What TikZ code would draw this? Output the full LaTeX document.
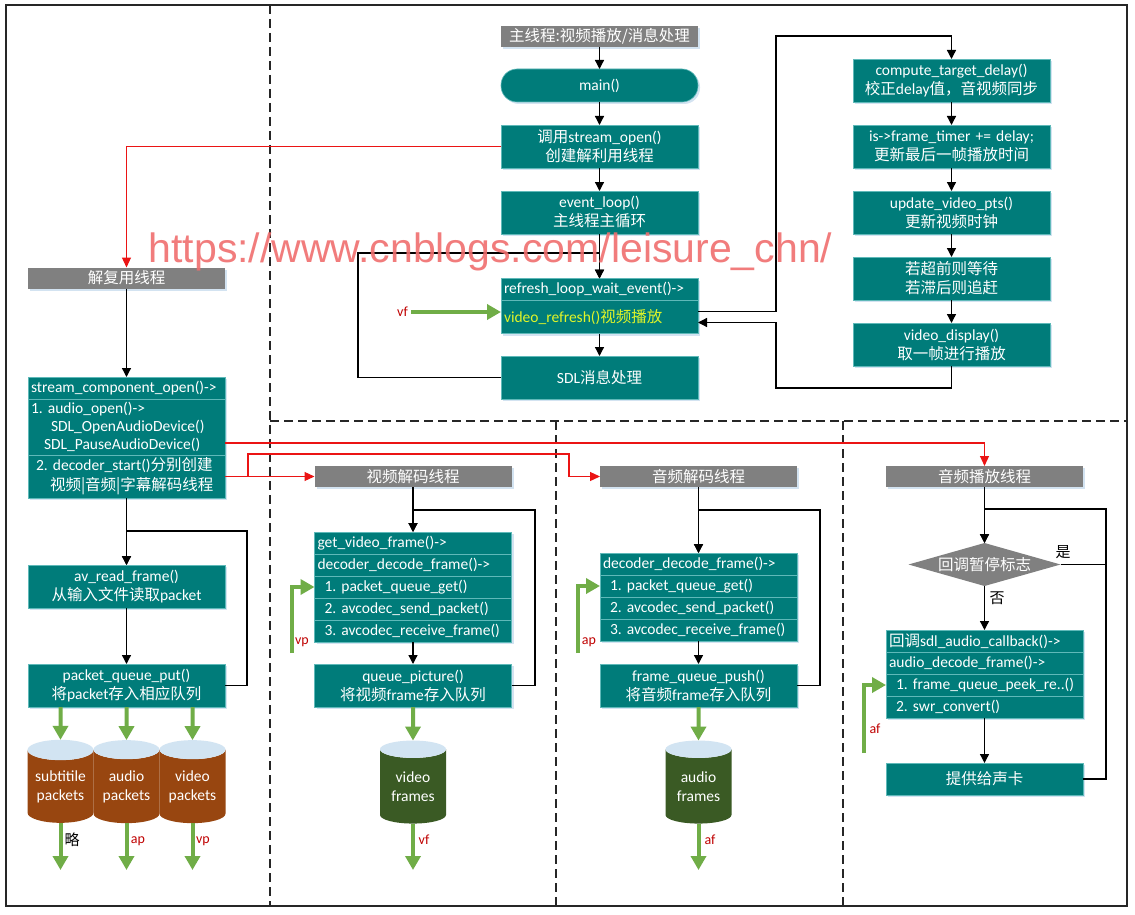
\documentclass[tikz,border=0pt]{standalone}
\usepackage{fontspec}
\setmainfont{Carlito}
\newfontfamily\zhfont{Noto Sans CJK SC}
\newfontfamily\wmfont{Liberation Sans}
\newcommand\zhtxt[1]{{\zhfont #1}}
\frenchspacing
\usetikzlibrary{positioning,arrows.meta,shapes.geometric,shadows}
\definecolor{boxteal}{RGB}{0,124,122}
\definecolor{boxedge}{RGB}{95,185,185}
\definecolor{titlegray}{RGB}{128,128,128}
\definecolor{shadowblue}{RGB}{200,220,238}
\definecolor{flowgreen}{RGB}{112,173,71}
\definecolor{packetbrown}{RGB}{152,70,16}
\definecolor{framegreen}{RGB}{58,90,36}
\definecolor{capblue}{RGB}{210,228,242}
\definecolor{labelred}{RGB}{192,0,0}
\definecolor{linkred}{RGB}{235,20,20}
\definecolor{markred}{RGB}{240,110,110}
\definecolor{refreshyellow}{RGB}{225,245,40}
\tikzset{
  txtbase/.style  = {font=\fontsize{15.5}{19}\selectfont, text=white,
                     inner sep=0pt, outer sep=0pt},
  stepbox/.style  = {txtbase, rectangle, draw=boxedge, line width=0.6pt,
                     fill=boxteal, minimum width=197pt, minimum height=43pt,
                     text width=191pt, align=center,
                     drop shadow={shadow xshift=2pt, shadow yshift=-2pt,
                                  fill=shadowblue, opacity=0.8}},
  listrow/.style  = {stepbox, minimum height=22pt, align=left},
  thread/.style   = {txtbase, fill=titlegray, minimum width=197pt,
                     minimum height=21pt,
                     drop shadow={shadow xshift=2pt, shadow yshift=-2pt,
                                  fill=shadowblue, opacity=0.8}},
  flagbox/.style  = {txtbase, diamond, fill=titlegray, aspect=3.5,
                     minimum width=152pt, minimum height=43pt},
  drum/.style     = {txtbase, cylinder, shape border rotate=90, aspect=0.4,
                     minimum width=66pt, minimum height=83pt, align=center,
                     cylinder uses custom fill, cylinder end fill=capblue},
  flowtag/.style  = {font=\fontsize{14}{14}\selectfont, text=labelred,
                     inner sep=0pt},
  answer/.style   = {font=\fontsize{15}{15}\selectfont\zhfont, inner sep=0pt},
  wmtext/.style   = {font=\wmfont\fontsize{41}{41}\selectfont, text=markred,
                     opacity=0.9, inner sep=0pt}
}
\begin{document}
\begin{tikzpicture}
  [
    x = 1pt, y = -1pt,
    arr/.style   = {draw=black, line width=1.3pt, -{Triangle[length=9pt,width=9pt]}},
    plain/.style = {draw=black, line width=1.3pt},
    rarr/.style  = {draw=linkred, line width=1.2pt, -{Triangle[length=10pt,width=9pt]}},
    garr/.style  = {draw=flowgreen, line width=4pt, -{Triangle[length=14pt,width=15pt]}},
    sep/.style   = {draw=black!85, line width=1.4pt, dash pattern=on 9pt off 5pt}
  ]
  \useasboundingbox (0,0) rectangle (1135,915);
  \fill[white] (0,0) rectangle (1135,915);
  \draw[black!85, line width=1.5pt] (6,5) rectangle (1127,906);
  \draw[sep] (270,5) -- (270,906);
  \draw[sep] (270,421) -- (1127,421);
  \draw[sep] (556,421) -- (556,906);
  \draw[sep] (843,421) -- (843,906);

  % main thread
  \node[thread] (t_main) at (599.5,36.5) {\zhtxt{主线程:视频播放/消息处理}};
  \node[stepbox, rounded corners=16pt, minimum height=33pt] (n_main) at (599.5,85.5) {main()};
  \node[stepbox] (n_open) at (599.5,146.5) {\zhtxt{调用}stream\_open()\\\zhtxt{创建解利用线程}};
  \node[stepbox, below=23pt of n_open] (n_loop) {event\_loop()\\\zhtxt{主线程主循环}};
  \node[listrow] (n_wait) at (599.5,289.5) {refresh\_loop\_wait\_event()->};
  \node[listrow, minimum height=33pt, text=refreshyellow, below=0pt of n_wait] (n_refresh)
    {video\_refresh()\zhtxt{视频播放}};
  \node[stepbox] (n_sdl) at (599.5,377.5) {SDL\zhtxt{消息处理}};

  \node[stepbox] (n_delay) at (951.5,80.5) {compute\_target\_delay()\\\zhtxt{校正}delay\zhtxt{值，音视频同步}};
  \node[stepbox, below=23pt of n_delay] (n_timer) {is->frame\_timer += delay;\\\zhtxt{更新最后一帧播放时间}};
  \node[stepbox, below=23pt of n_timer] (n_pts) {update\_video\_pts()\\\zhtxt{更新视频时钟}};
  \node[stepbox, below=23pt of n_pts] (n_sync) {\zhtxt{若超前则等待}\\\zhtxt{若滞后则追赶}};
  \node[stepbox, below=23pt of n_sync] (n_disp) {video\_display()\\\zhtxt{取一帧进行播放}};

  \draw[arr] (t_main) -- (n_main);
  \draw[arr] (n_main) -- (n_open);
  \draw[arr] (n_open) -- (n_loop);
  \draw[arr] (n_loop) -- (n_wait);
  \draw[arr] (n_refresh) -- (n_sdl);
  \draw[arr] (n_sdl.west) -| (358,253) -| (n_wait.north);
  \draw[arr] ([yshift=5.5pt]n_refresh.east) -| (776,36) -| (n_delay.north);
  \draw[arr] (n_delay) -- (n_timer);
  \draw[arr] (n_timer) -- (n_pts);
  \draw[arr] (n_pts) -- (n_sync);
  \draw[arr] (n_sync) -- (n_disp);
  \draw[arr] (n_disp.south) |- (776,388) |- ([yshift=-5.5pt]n_refresh.east);
  \coordinate (vf_in) at (411,312);
  \draw[garr] (vf_in) -- (n_refresh.west |- vf_in);
  \node[flowtag, left=3pt of vf_in] (l_vfin) {vf};

  % demux thread
  \node[thread] (t_demux) at (126.5,278) {\zhtxt{解复用线程}};
  \node[listrow] (s1) at (126.5,388) {stream\_component\_open()->};
  \node[listrow, minimum height=56pt, font=\fontsize{15.5}{18}\selectfont, below=0pt of s1] (s2)
    {1. audio\_open()->\\\hspace*{20pt}SDL\_OpenAudioDevice()\\\hspace*{13pt}SDL\_PauseAudioDevice()};
  \node[listrow, minimum height=43pt, font=\fontsize{15.5}{20}\selectfont, below=0pt of s2] (s3)
    {\hspace*{5pt}2. decoder\_start()\zhtxt{分别创建}\\\hspace*{19pt}\zhtxt{视频|音频|字幕解码线程}};
  \node[stepbox] (n_read) at (126.5,586.5) {av\_read\_frame()\\\zhtxt{从输入文件读取}packet};
  \node[stepbox, below=56pt of n_read] (n_put) {packet\_queue\_put()\\\zhtxt{将}packet\zhtxt{存入相应队列}};
  \node[drum, cylinder body fill=packetbrown] (c_sub) at (60.5,786.5) {subtitile\\packets};
  \node[drum, cylinder body fill=packetbrown] (c_apk) at (126.5,786.5) {audio\\packets};
  \node[drum, cylinder body fill=packetbrown] (c_vpk) at (192.5,786.5) {video\\packets};
  \coordinate (o_sub) at (60.5,870);
  \coordinate (o_apk) at (126.5,870);
  \coordinate (o_vpk) at (192.5,870);

  \draw[rarr] (n_open.west) -| (t_demux.north);
  \draw[arr] (t_demux) -- (s1);
  \draw[arr] (s3) -- (n_read);
  \draw[arr] (n_read) -- (n_put);
  \draw[arr] (n_put.east) -| (247,531) -| (n_read.north);
  \foreach \c in {sub,apk,vpk} {
    \draw[garr] (n_put.south -| c_\c) -- (c_\c.north);
    \draw[garr] (c_\c.south) -- (o_\c);
  }
  \node[answer] (l_sub) at (72,840) {略};
  \node[flowtag] (l_apk) at (138,841) {ap};
  \node[flowtag] (l_vpk) at (203,841) {vp};

  % video decode thread
  \node[thread] (t_vdec) at (413,476.5) {\zhtxt{视频解码线程}};
  \node[listrow] (v1) at (413,543) {get\_video\_frame()->};
  \node[listrow, below=0pt of v1] (v2) {decoder\_decode\_frame()->};
  \node[listrow, below=0pt of v2] (v3) {\hspace*{7pt}1. packet\_queue\_get()};
  \node[listrow, below=0pt of v3] (v4) {\hspace*{7pt}2. avcodec\_send\_packet()};
  \node[listrow, below=0pt of v4] (v5) {\hspace*{7pt}3. avcodec\_receive\_frame()};
  \node[stepbox] (n_qpic) at (413,685.5) {queue\_picture()\\\zhtxt{将视频}frame\zhtxt{存入队列}};
  \node[drum, cylinder body fill=framegreen] (c_vf) at (413,786.5) {video\\frames};
  \coordinate (o_vf) at (413,870);
  \coordinate (vp_in) at (292,653);

  \draw[arr] (t_vdec) -- (v1);
  \draw[arr] (v5) -- (n_qpic);
  \draw[arr] (n_qpic.east) -| (535,510) -| (v1.north);
  \draw[garr] (n_qpic) -- (c_vf);
  \draw[garr] (c_vf.south) -- (o_vf);
  \draw[garr] (vp_in) |- (v3.west);
  \node[flowtag] (l_vp) at (302,642) {vp};
  \node[flowtag] (l_vf) at (424,840) {vf};

  % audio decode thread
  \node[thread] (t_adec) at (698.5,476.5) {\zhtxt{音频解码线程}};
  \node[listrow] (a1) at (698.5,564) {decoder\_decode\_frame()->};
  \node[listrow, below=0pt of a1] (a2) {\hspace*{7pt}1. packet\_queue\_get()};
  \node[listrow, below=0pt of a2] (a3) {\hspace*{7pt}2. avcodec\_send\_packet()};
  \node[listrow, below=0pt of a3] (a4) {\hspace*{7pt}3. avcodec\_receive\_frame()};
  \node[stepbox] (n_fpush) at (698.5,685.5) {frame\_queue\_push()\\\zhtxt{将音频}frame\zhtxt{存入队列}};
  \node[drum, cylinder body fill=framegreen] (c_af) at (698.5,786.5) {audio\\frames};
  \coordinate (o_af) at (698.5,870);
  \coordinate (ap_in) at (578,653);

  \draw[arr] (t_adec) -- (a1);
  \draw[arr] (a4) -- (n_fpush);
  \draw[arr] (n_fpush.east) -| (820,510) -| (a1.north);
  \draw[garr] (n_fpush) -- (c_af);
  \draw[garr] (c_af.south) -- (o_af);
  \draw[garr] (ap_in) |- (a2.west);
  \node[flowtag] (l_ap) at (589,642) {ap};
  \node[flowtag] (l_af) at (710,840) {af};

  % audio playback thread
  \node[thread] (t_aplay) at (984.5,476.5) {\zhtxt{音频播放线程}};
  \node[flagbox] (d_pause) at (984.5,564.5) {\zhtxt{回调暂停标志}};
  \node[listrow] (p1) at (984.5,641) {\zhtxt{回调}sdl\_audio\_callback()->};
  \node[listrow, below=0pt of p1] (p2) {audio\_decode\_frame()->};
  \node[listrow, below=0pt of p2] (p3) {\hspace*{7pt}1. frame\_queue\_peek\_re..()};
  \node[listrow, below=0pt of p3] (p4) {\hspace*{7pt}2. swr\_convert()};
  \node[stepbox, minimum height=32pt] (n_card) at (984.5,779) {\zhtxt{提供给声卡}};
  \coordinate (yes_end) at (1106,564.5);
  \coordinate (af_in) at (864,753);

  \draw[arr] (t_aplay) -- (d_pause);
  \draw[arr] (n_card.east) -| (1106,509) -| (d_pause.north);
  \draw[plain] (d_pause.east) -- (yes_end);
  \draw[arr] (d_pause) -- (p1);
  \draw[arr] (p4) -- (n_card);
  \draw[garr] (af_in) |- (p3.west);
  \node[answer] (l_yes) at (1063,552) {是};
  \node[answer] (l_no) at (997,598) {否};
  \node[flowtag] (l_afin) at (875,729) {af};

  % thread start links
  \draw[rarr] ([yshift=-16pt]s2.east) -| (t_aplay.north);
  \draw[rarr] (s3.east) -- (t_vdec.west);
  \draw[rarr] (s3.east) -| (248,454) -| (569,476.5) -- (t_adec.west);

  \node[wmtext, anchor=base] (wm) at (490.5,262) {https://www.cnblogs.com/leisure\_chn/};
\end{tikzpicture}
\end{document}
